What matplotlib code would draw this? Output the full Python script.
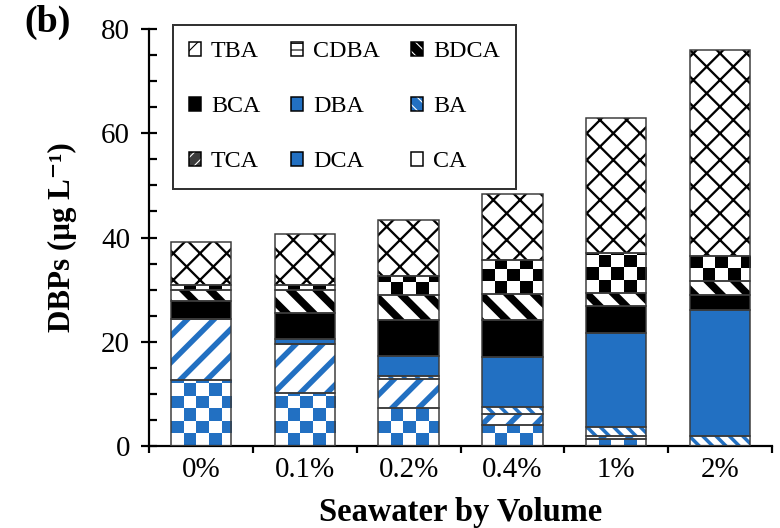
import matplotlib

matplotlib.use("Agg")

import matplotlib.pyplot as plt
from matplotlib.colors import ListedColormap
from matplotlib.legend_handler import HandlerTuple
from matplotlib.patches import Patch
from matplotlib.ticker import MultipleLocator
import numpy as np

# seawater fraction on the x axis
CATEGORIES = ["0%", "0.1%", "0.2%", "0.4%", "1%", "2%"]

# DBP concentrations (ug/L), stacked bottom to top
CA = [0.0, 0.0, 0.0, 0.0, 0.0, 0.0]
DCA = [12.6, 10.1, 7.2, 4.0, 1.3, 0.0]
TCA = [11.8, 9.5, 5.6, 2.1, 0.6, 0.0]
BA = [0.0, 0.0, 0.6, 1.3, 1.7, 1.9]
DBA = [0.0, 0.9, 3.8, 9.7, 18.1, 24.1]
BCA = [3.4, 5.0, 6.9, 7.1, 5.1, 3.0]
BDCA = [2.2, 4.5, 4.8, 5.0, 2.6, 2.6]
CDBA = [0.8, 0.8, 3.7, 6.4, 7.7, 4.8]
TBA = [8.4, 9.8, 10.8, 12.7, 25.9, 39.6]

STACK = [("CA", CA), ("DCA", DCA), ("TCA", TCA), ("BA", BA), ("DBA", DBA),
         ("BCA", BCA), ("BDCA", BDCA), ("CDBA", CDBA), ("TBA", TBA)]

# legend reads row-wise in the figure; matplotlib fills columns first
LEGEND_ORDER = ["TBA", "BCA", "TCA", "CDBA", "DBA", "DCA", "BDCA", "BA", "CA"]

BLUE = "#2270c2"
EDGE = "#3a3a3a"

DPI = 80
PX = 72.0 / DPI  # points per output pixel

STYLE = {
    "CA": dict(kind="solid", fc="white"),
    "DCA": dict(kind="checker", color=BLUE),
    "TCA": dict(kind="hatch", hatch="/", color=BLUE, lw=5.5 * PX),
    "BA": dict(kind="hatch", hatch="\\\\", color=BLUE, lw=3.5 * PX),
    "DBA": dict(kind="solid", fc=BLUE),
    "BCA": dict(kind="solid", fc="black"),
    "BDCA": dict(kind="hatch", hatch="\\", color="black", lw=7.5 * PX),
    "CDBA": dict(kind="checker", color="black"),
    "TBA": dict(kind="hatch", hatch="x", color="black", lw=2.3 * PX),
}

LEGEND_STYLE = {
    "TBA": dict(fc="white", hatch="x", hc="black"),
    "CDBA": dict(fc="white", hatch="--", hc="black"),
    "BDCA": dict(fc="black", hatch="\\\\", hc="white"),
    "BCA": dict(fc="black", hatch=None, hc="black"),
    "DBA": dict(fc=BLUE, hatch=None, hc=BLUE),
    "BA": dict(fc=BLUE, hatch="\\\\", hc="white"),
    "TCA": dict(fc="#3c3c3c", hatch="//", hc="white"),
    "DCA": dict(fc=BLUE, hatch=None, hc=BLUE),
    "CA": dict(fc="white", hatch=None, hc="white"),
}

plt.rcParams["font.family"] = ["Liberation Serif", "DejaVu Serif"]

BAR_W = 0.58
CELL_PX = 12.5


def _checker(ax, patch, color, cell_x, cell_y):
    x0, y0 = patch.get_x(), patch.get_y()
    w, h = patch.get_width(), patch.get_height()
    nx = int(np.ceil(w / cell_x))
    ny = int(np.ceil(h / cell_y))
    if nx == 0 or ny == 0 or h <= 0:
        return
    arr = np.add.outer(np.arange(ny), np.arange(nx)) % 2
    im = ax.imshow(arr, cmap=ListedColormap(["white", color]), vmin=0, vmax=1,
                   origin="lower", aspect="auto", interpolation="nearest",
                   extent=(x0, x0 + nx * cell_x, y0, y0 + ny * cell_y), zorder=2.5)
    im.set_clip_path(patch)


fig = plt.figure(figsize=(780 / DPI, 528 / DPI), dpi=DPI)
ax = fig.add_axes([149 / 780, 1 - 446 / 528, 623 / 780, 417 / 528])
ax.set_xlim(-0.5, 5.5)
ax.set_ylim(0, 80)

# checker cell size in data units
px_x = (ax.get_position().width * 780) / 6.0
px_y = (ax.get_position().height * 528) / 80.0
cell_x = CELL_PX / px_x
cell_y = CELL_PX / px_y

x = np.arange(len(CATEGORIES))
bottom = np.zeros(len(CATEGORIES))
for name, vals in STACK:
    st = STYLE[name]
    vals = np.asarray(vals, dtype=float)
    if st["kind"] == "hatch":
        with plt.rc_context({"hatch.linewidth": st["lw"]}):
            bars = ax.bar(x, vals, BAR_W, bottom=bottom, facecolor="white",
                          edgecolor=st["color"], hatch=st["hatch"], linewidth=0, zorder=2)
        for p in bars:
            if hasattr(p, "set_hatch_linewidth"):
                p.set_hatch_linewidth(st["lw"])
    elif st["kind"] == "checker":
        bars = ax.bar(x, vals, BAR_W, bottom=bottom, facecolor="white", linewidth=0, zorder=2)
        for p in bars:
            _checker(ax, p, st["color"], cell_x, cell_y)
    else:
        ax.bar(x, vals, BAR_W, bottom=bottom, facecolor=st["fc"], linewidth=0, zorder=2)
    ax.bar(x, vals, BAR_W, bottom=bottom, fill=False, edgecolor=EDGE,
           linewidth=1.5 * PX, zorder=3)
    bottom += vals

ax.set_xlim(-0.5, 5.5)
ax.set_ylim(0, 80)

for side in ("top", "right"):
    ax.spines[side].set_visible(False)
for side in ("left", "bottom"):
    ax.spines[side].set_linewidth(2.2 * PX)

ax.set_yticks(np.arange(0, 81, 20))
ax.yaxis.set_minor_locator(MultipleLocator(5))
ax.tick_params(axis="y", which="major", direction="inout", length=16 * PX, width=2.2 * PX,
               labelsize=29 * PX, pad=11 * PX)
ax.tick_params(axis="y", which="minor", direction="in", length=8 * PX, width=2.2 * PX)

ax.set_xticks(np.arange(-0.5, 6.0, 1.0))
ax.set_xticklabels([])
ax.set_xticks(x, minor=True)
ax.set_xticklabels(CATEGORIES, minor=True)
ax.tick_params(axis="x", which="major", direction="out", length=7 * PX, width=2.2 * PX)
ax.tick_params(axis="x", which="minor", length=0, labelsize=29 * PX, pad=11 * PX)

ax.set_ylabel("DBPs (μg L⁻¹)", fontsize=31 * PX, fontweight="bold", labelpad=24 * PX)
ax.set_xlabel("Seawater by Volume", fontsize=32.5 * PX, fontweight="bold", labelpad=14 * PX)

fig.text(48 / 780, 1 - 22 / 528, "(b)", fontsize=38 * PX, fontweight="bold",
         ha="center", va="center")

handles = []
for name in LEGEND_ORDER:
    ls = LEGEND_STYLE[name]
    with plt.rc_context({"hatch.linewidth": 2.5 * PX}):
        fill = Patch(facecolor=ls["fc"], edgecolor=ls["hc"], hatch=ls["hatch"], linewidth=0)
    outline = Patch(fill=False, edgecolor="black", linewidth=1.5 * PX)
    handles.append((fill, outline))

leg = ax.legend(handles, LEGEND_ORDER, ncol=3, loc="upper left",
                bbox_to_anchor=(173 / 780, 1 - 25 / 528), bbox_transform=fig.transFigure,
                borderaxespad=0, fontsize=24 * PX, handlelength=0.5, handleheight=0.5,
                handletextpad=0.4, columnspacing=1.3, labelspacing=1.42, borderpad=0.68,
                frameon=True, fancybox=False,
                handler_map={tuple: HandlerTuple(ndivide=1, pad=0)})
leg.get_frame().set_edgecolor("black")
leg.get_frame().set_linewidth(2.0 * PX)

fig.savefig("out.png", dpi=DPI)
